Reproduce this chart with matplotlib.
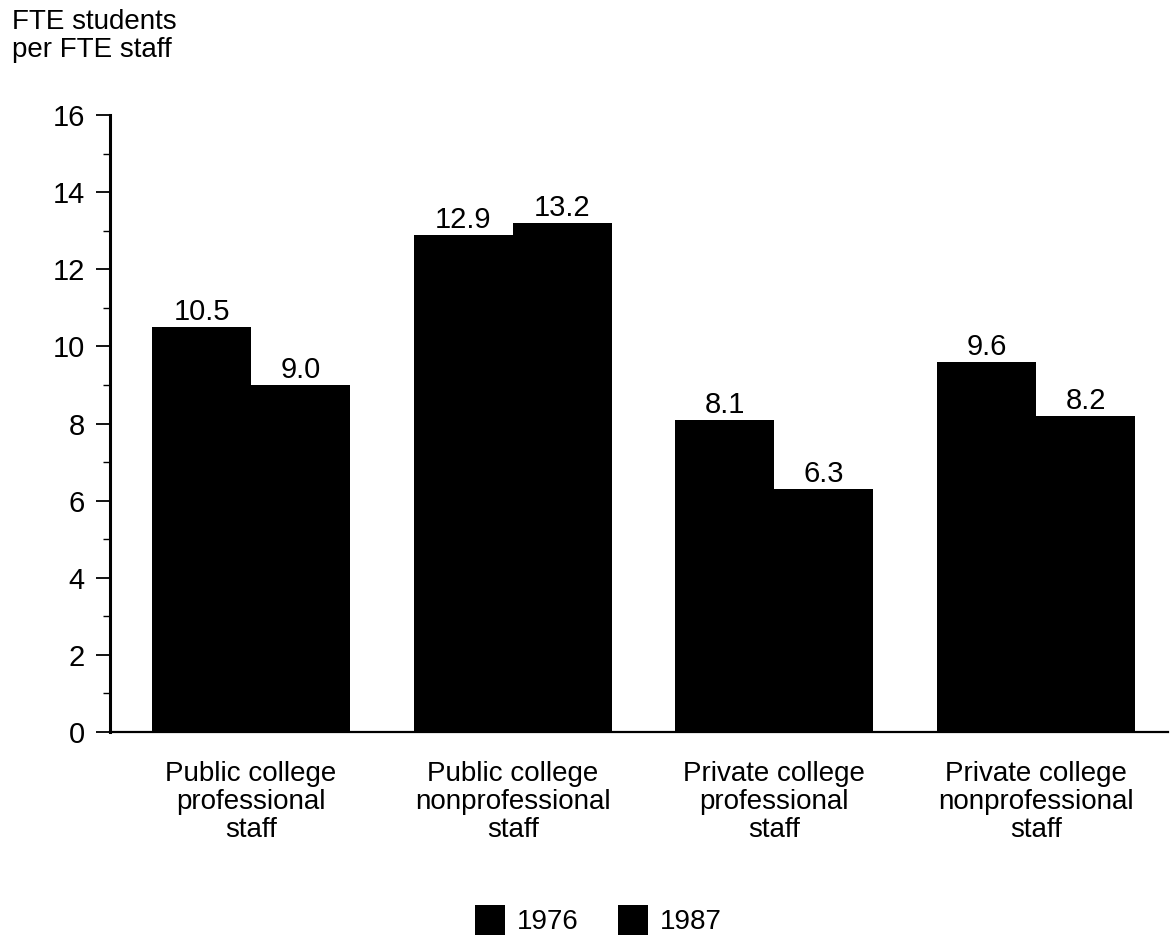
import matplotlib
matplotlib.use('Agg')
import matplotlib.pyplot as plt
from matplotlib.ticker import MultipleLocator
import numpy as np

plt.rcParams['font.family'] = ['Liberation Sans', 'DejaVu Sans']

categories = ['Public college\nprofessional\nstaff', 'Public college\nnonprofessional\nstaff',
              'Private college\nprofessional\nstaff', 'Private college\nnonprofessional\nstaff']
years = ['1976', '1987']
vals_1976 = [10.5, 12.9, 8.1, 9.6]
vals_1987 = [9.0, 13.2, 6.3, 8.2]

fig = plt.figure(figsize=(11.71, 9.38), dpi=100)
ax = fig.add_axes([0.0939, 0.2196, 0.9035, 0.6578])

x = np.arange(len(categories))
w = 0.378
b1 = ax.bar(x - w / 2, vals_1976, w, color='black', label=years[0])
b2 = ax.bar(x + w / 2, vals_1987, w, color='black', label=years[1])

for bars, vals in [(b1, vals_1976), (b2, vals_1987)]:
    for r, v in zip(bars, vals):
        ax.text(r.get_x() + r.get_width() / 2, v + 0.02, f'{v:.1f}',
                ha='center', va='bottom', fontsize=21)

ax.set_xlim(-0.539, 3.504)
ax.set_ylim(0, 16)
ax.yaxis.set_major_locator(MultipleLocator(2))
ax.yaxis.set_minor_locator(MultipleLocator(1))
ax.tick_params(axis='y', which='major', length=10, width=1.3, labelsize=21, pad=8)
ax.tick_params(axis='y', which='minor', length=5, width=1.0)
ax.set_xticks(x)
ax.set_xticklabels(categories, fontsize=20, linespacing=1.1)
ax.tick_params(axis='x', length=0, pad=21)

ax.spines['top'].set_visible(False)
ax.spines['right'].set_visible(False)
ax.spines['left'].set_linewidth(2.2)
ax.spines['bottom'].set_linewidth(1.6)

fig.text(0.01, 0.99, 'FTE students\nper FTE staff', ha='left', va='top', fontsize=20, linespacing=1.1)

fig.legend(handles=[b1, b2], labels=years, loc='center', bbox_to_anchor=(0.511, 0.019),
           ncol=2, frameon=False, fontsize=20, handlelength=1.1, handleheight=1.25,
           columnspacing=1.4, handletextpad=0.43, borderpad=0.1)

fig.savefig('out.png', dpi=100)
